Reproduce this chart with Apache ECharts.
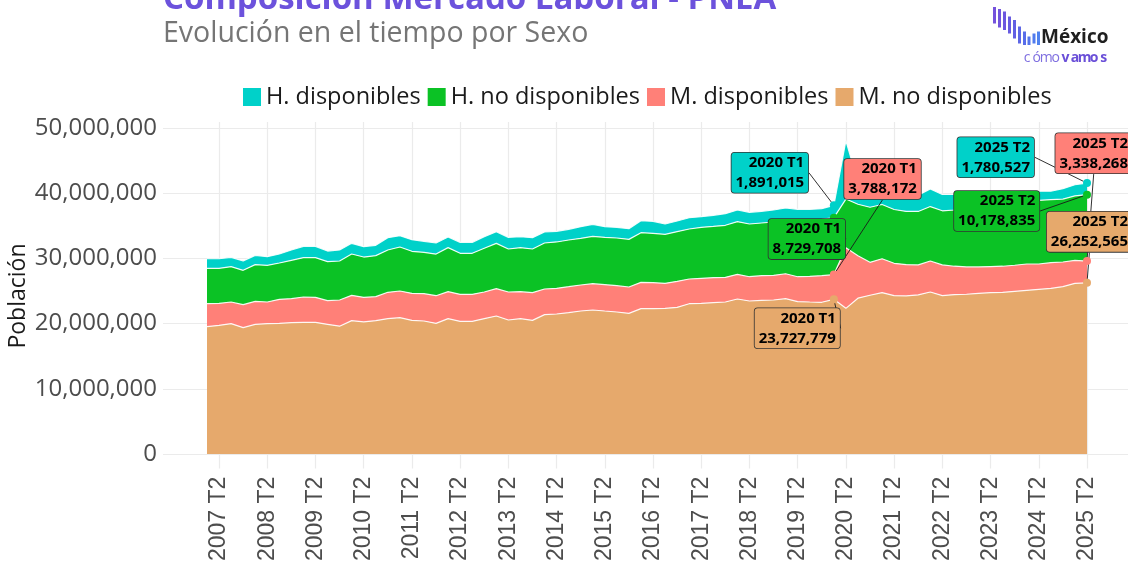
<!DOCTYPE html>
<html><head><meta charset="utf-8">
<script src="https://cdn.jsdelivr.net/npm/echarts@6/dist/echarts.min.js"></script>
<style>html,body{margin:0;padding:0;background:#fff}#c{width:1128px;height:564px}</style>
</head><body><div id="c"></div>
<script>
// ---------------- DATA ----------------
const categories = [
'2007 T1','2007 T2','2007 T3','2007 T4','2008 T1','2008 T2','2008 T3','2008 T4',
'2009 T1','2009 T2','2009 T3','2009 T4','2010 T1','2010 T2','2010 T3','2010 T4',
'2011 T1','2011 T2','2011 T3','2011 T4','2012 T1','2012 T2','2012 T3','2012 T4',
'2013 T1','2013 T2','2013 T3','2013 T4','2014 T1','2014 T2','2014 T3','2014 T4',
'2015 T1','2015 T2','2015 T3','2015 T4','2016 T1','2016 T2','2016 T3','2016 T4',
'2017 T1','2017 T2','2017 T3','2017 T4','2018 T1','2018 T2','2018 T3','2018 T4',
'2019 T1','2019 T2','2019 T3','2019 T4','2020 T1','2020 T2','2020 T3','2020 T4',
'2021 T1','2021 T2','2021 T3','2021 T4','2022 T1','2022 T2','2022 T3','2022 T4',
'2023 T1','2023 T2','2023 T3','2023 T4','2024 T1','2024 T2','2024 T3','2024 T4',
'2025 T1','2025 T2'];

const tickLabels = ['2007 T2','2008 T2','2009 T2','2010 T2','2011 T2','2012 T2','2013 T2',
'2014 T2','2015 T2','2016 T2','2017 T2','2018 T2','2019 T2','2020 T2','2021 T2','2022 T2',
'2023 T2','2024 T2','2025 T2'];

const annotatedCategories = ['2020 T1', '2025 T2'];

// values in millions of people
const hDisp = [1.47, 1.47, 1.43, 1.43, 1.43, 1.32, 1.37, 1.58, 1.74, 1.74,
 1.63, 1.69, 1.64, 1.59, 1.58, 1.89, 1.74, 1.78, 1.69, 1.69,
 1.63, 1.68, 1.68, 1.78, 1.79, 1.79, 1.68, 1.74, 1.69, 1.63,
 1.64, 1.79, 1.84, 1.64, 1.64, 1.64, 1.84, 1.84, 1.59, 1.64,
 1.73, 1.63, 1.69, 1.78, 1.79, 1.79, 1.79, 1.84, 1.79, 1.79,
 1.64, 1.63, 1.891015, 8.95, 3.4, 2.45, 2.13, 2.3, 2.4, 2.5,
 2.7, 2.5, 2.38, 2.3, 2.1, 2.1, 2.0, 1.9, 1.8, 1.4,
 1.3, 1.6, 1.7, 1.780527];

const hNoDisp = [5.43, 5.38, 5.42, 5.27, 5.62, 5.63, 5.58, 5.89, 6.03, 6.08,
 5.98, 5.98, 6.34, 6.18, 6.29, 6.49, 6.75, 6.45, 6.34, 6.39,
 6.75, 6.29, 6.29, 6.7, 6.95, 6.59, 6.75, 6.7, 7.05, 7.11,
 7.16, 7.16, 7.27, 7.26, 7.31, 7.31, 7.61, 7.57, 7.51, 7.62,
 7.67, 7.82, 7.88, 7.98, 8.07, 8.09, 8.08, 8.17, 8.29, 8.55,
 8.64, 8.65, 8.729708, 7.45, 7.9, 8.45, 8.32, 8.25, 8.15, 8.2,
 8.35, 8.3, 8.62, 8.9, 9.2, 9.05, 9.3, 9.45, 9.46, 9.76,
 9.65, 9.65, 9.9, 10.178835];

const mDisp = [3.52, 3.37, 3.32, 3.52, 3.53, 3.32, 3.68, 3.68, 3.89, 3.84,
 3.63, 4.02, 3.88, 3.78, 3.68, 4.04, 4.09, 4.14, 4.19, 4.24,
 4.14, 4.14, 4.14, 4.09, 4.19, 4.30, 4.14, 4.24, 3.94, 3.94,
 3.98, 3.99, 4.03, 4.04, 4.04, 4.04, 4.04, 3.99, 3.84, 3.98,
 3.79, 3.84, 3.83, 3.79, 3.79, 3.72, 3.78, 3.79, 3.83, 3.83,
 3.94, 4.08, 3.788172, 9.31, 6.5, 5.05, 5.2, 4.95, 4.8, 4.6,
 4.75, 4.7, 4.35, 4.2, 4.05, 4.0, 4.0, 4.0, 4.04, 3.89,
 3.95, 3.79, 3.52, 3.338268];

const mNoDisp = [19.53, 19.73, 19.99, 19.38, 19.89, 19.99, 20.04, 20.14, 20.19, 20.19,
 19.89, 19.6, 20.45, 20.25, 20.45, 20.76, 20.91, 20.5, 20.4, 20.04,
 20.76, 20.35, 20.35, 20.76, 21.17, 20.55, 20.76, 20.5, 21.37, 21.47,
 21.68, 21.93, 22.09, 21.93, 21.78, 21.57, 22.29, 22.29, 22.34, 22.5,
 23.05, 23.11, 23.21, 23.31, 23.77, 23.47, 23.57, 23.62, 23.82, 23.36,
 23.31, 23.27, 23.727779, 22.34, 23.9, 24.35, 24.75, 24.3, 24.25, 24.4,
 24.85, 24.3, 24.45, 24.5, 24.65, 24.75, 24.8, 24.95, 25.1, 25.25,
 25.4, 25.66, 26.18, 26.252565];

const legendOrder = ['H. disponibles', 'H. no disponibles', 'M. disponibles', 'M. no disponibles'];

// ---------------- STYLE / LAYOUT ----------------
const seriesDefs = [
  {name: 'M. no disponibles', values: mNoDisp, color: '#E6A96C',
   offsets: {'2020 T1': [6, 9], '2025 T2': [45, -71]}},
  {name: 'M. disponibles', values: mDisp, color: '#FF8078',
   offsets: {'2020 T1': [87, -115.6], '2025 T2': [45, -127.8]}},
  {name: 'H. no disponibles', values: hNoDisp, color: '#0BC225',
   offsets: {'2020 T1': [11.3, 1.4], '2025 T2': [-47.7, -3.7]}},
  {name: 'H. disponibles', values: hDisp, color: '#00D1C9',
   offsets: {'2020 T1': [-25.7, -52.6], '2025 T2': [-53, -45.8]}}
];

const fmt = v => Math.round(v).toLocaleString('en-US');
const isTick = (idx, val) => tickLabels.includes(val !== undefined ? val : categories[idx]);
const gridColor = '#EBEBEB';

const series = seriesDefs.map(def => ({
  type: 'line',
  name: def.name,
  stack: 'pnea',
  xAxisIndex: 2,
  yAxisIndex: 2,
  silent: true,
  symbol: 'none',
  showSymbol: true,
  showAllSymbol: true,
  emphasis: {disabled: true},
  data: def.values.map((v, i) => annotatedCategories.includes(categories[i])
      ? {value: v * 1e6, symbol: 'circle', symbolSize: 8, label: {show: true}}
      : v * 1e6),
  lineStyle: {color: 'rgba(255,255,255,0.9)', width: 1.2},
  itemStyle: {color: def.color},
  areaStyle: {color: def.color, opacity: 1},
  label: {
    show: false,
    formatter: p => p.name + '\n' + fmt(p.value),
    fontFamily: 'Noto Sans', fontWeight: 'bold', fontSize: 15, color: '#000',
    lineHeight: 20, backgroundColor: def.color, borderColor: '#333',
    borderWidth: 0.8, borderRadius: 3, padding: [0, 4, 0, 4], align: 'right'
  },
  labelLine: {show: true, smooth: 0.3, lineStyle: {color: '#1a1a1a', width: 0.9}},
  labelLayout: p => {
    const off = def.offsets[categories[p.dataIndex]];
    if (!off) return {};
    const cx = p.rect.x + p.rect.width / 2;
    const cy = p.rect.y + p.rect.height / 2;
    return {x: cx + off[0], y: cy + off[1], align: 'right', verticalAlign: 'top'};
  }
}));

// logo bars (decorative)
const logoBars = [];
const barGeom = [[993,7,23.5],[998,9,27.5],[1003,11.5,30],[1008,16.5,33.5],[1013,20,38.5],
                 [1018,26.5,43.5],[1023,31.5,45],[1027.5,36.5,45],[1032.5,33.5,43.5],[1037,31.5,45]];
const barColors = ['#7552DC','#7154DD','#6C57DF','#675BE1','#6260E3','#5D66E6','#586DE9','#5474EB','#517BED','#4F82EF'];
barGeom.forEach((b, i) => logoBars.push({type: 'rect', shape: {x: b[0], y: b[1], width: 3, height: b[2] - b[1]},
  style: {fill: barColors[i]}, silent: true}));
const logoLetters = [];
'cómovamos'.split('').forEach((ch, i) => logoLetters.push({type: 'text', x: 1027 + i * 9.6, y: 58.5, silent: true,
  style: {text: ch, font: (i >= 4 ? 'bold ' : '') + '14px "Open Sans"', fill: i >= 4 ? '#6A4FD8' : '#7F6FE0',
          align: 'center', verticalAlign: 'middle'}}));

const option = {
  animation: false,
  backgroundColor: '#ffffff',
  graphic: [
    {type: 'text', x: 163, y: 0, silent: true,
     style: {text: 'Composición Mercado Laboral - PNEA', font: 'bold 33px "Open Sans"', fill: '#6C52DC',
             align: 'left', verticalAlign: 'middle'}},
    {type: 'text', x: 163, y: 34, silent: true,
     style: {text: 'Evolución en el tiempo por Sexo', font: '28.5px "Open Sans"', fill: '#757575',
             align: 'left', verticalAlign: 'middle'}},
    {type: 'text', x: 18, y: 296, rotation: Math.PI / 2, silent: true,
     style: {text: 'Población', font: '23px "Open Sans"', fill: '#1a1a1a', align: 'center', verticalAlign: 'middle'}},
    {type: 'text', x: 1041, y: 38, silent: true,
     style: {text: 'México', font: 'bold 19px "Open Sans"', fill: '#1f1f1f', align: 'left', verticalAlign: 'middle'}},
    ...logoBars,
    ...logoLetters
  ],
  legend: {
    data: legendOrder.map(n => ({name: n, itemStyle: {color: seriesDefs.find(d => d.name === n).color}})),
    left: 238, top: 80, icon: 'rect', itemWidth: 18, itemHeight: 18, itemGap: 7,
    selectedMode: false,
    textStyle: {fontFamily: 'Open Sans', fontSize: 23.5, color: '#1a1a1a'}
  },
  grid: [
    {left: 163, right: 0, top: 128, bottom: 110},
    {left: 207, right: 41, top: 122, bottom: 94},
    {left: 207, right: 41, top: 128, bottom: 110}
  ],
  xAxis: [
    {gridIndex: 0, type: 'value', show: false, min: 0, max: 1},
    {gridIndex: 1, type: 'category', data: categories, boundaryGap: false,
     axisLine: {show: false}, axisTick: {show: false},
     axisLabel: {interval: isTick, rotate: 90, margin: 8, fontFamily: 'Liberation Sans', fontSize: 23, color: '#4d4d4d'},
     splitLine: {show: true, interval: isTick, lineStyle: {color: gridColor, width: 1.2}}},
    {gridIndex: 2, type: 'category', data: categories, boundaryGap: false, show: false}
  ],
  yAxis: [
    {gridIndex: 0, type: 'value', min: 0, max: 50e6, interval: 10e6,
     axisLine: {show: false}, axisTick: {show: false},
     axisLabel: {formatter: v => fmt(v), margin: 6, fontFamily: 'Open Sans', fontSize: 24, color: '#4d4d4d'},
     splitLine: {show: true, lineStyle: {color: gridColor, width: 1.2}}},
    {gridIndex: 1, type: 'value', show: false, splitLine: {show: false}},
    {gridIndex: 2, type: 'value', min: 0, max: 50e6, show: false, splitLine: {show: false}}
  ],
  series: series
};

const chart = echarts.init(document.getElementById('c'));
chart.setOption(option);
</script>
</body></html>
